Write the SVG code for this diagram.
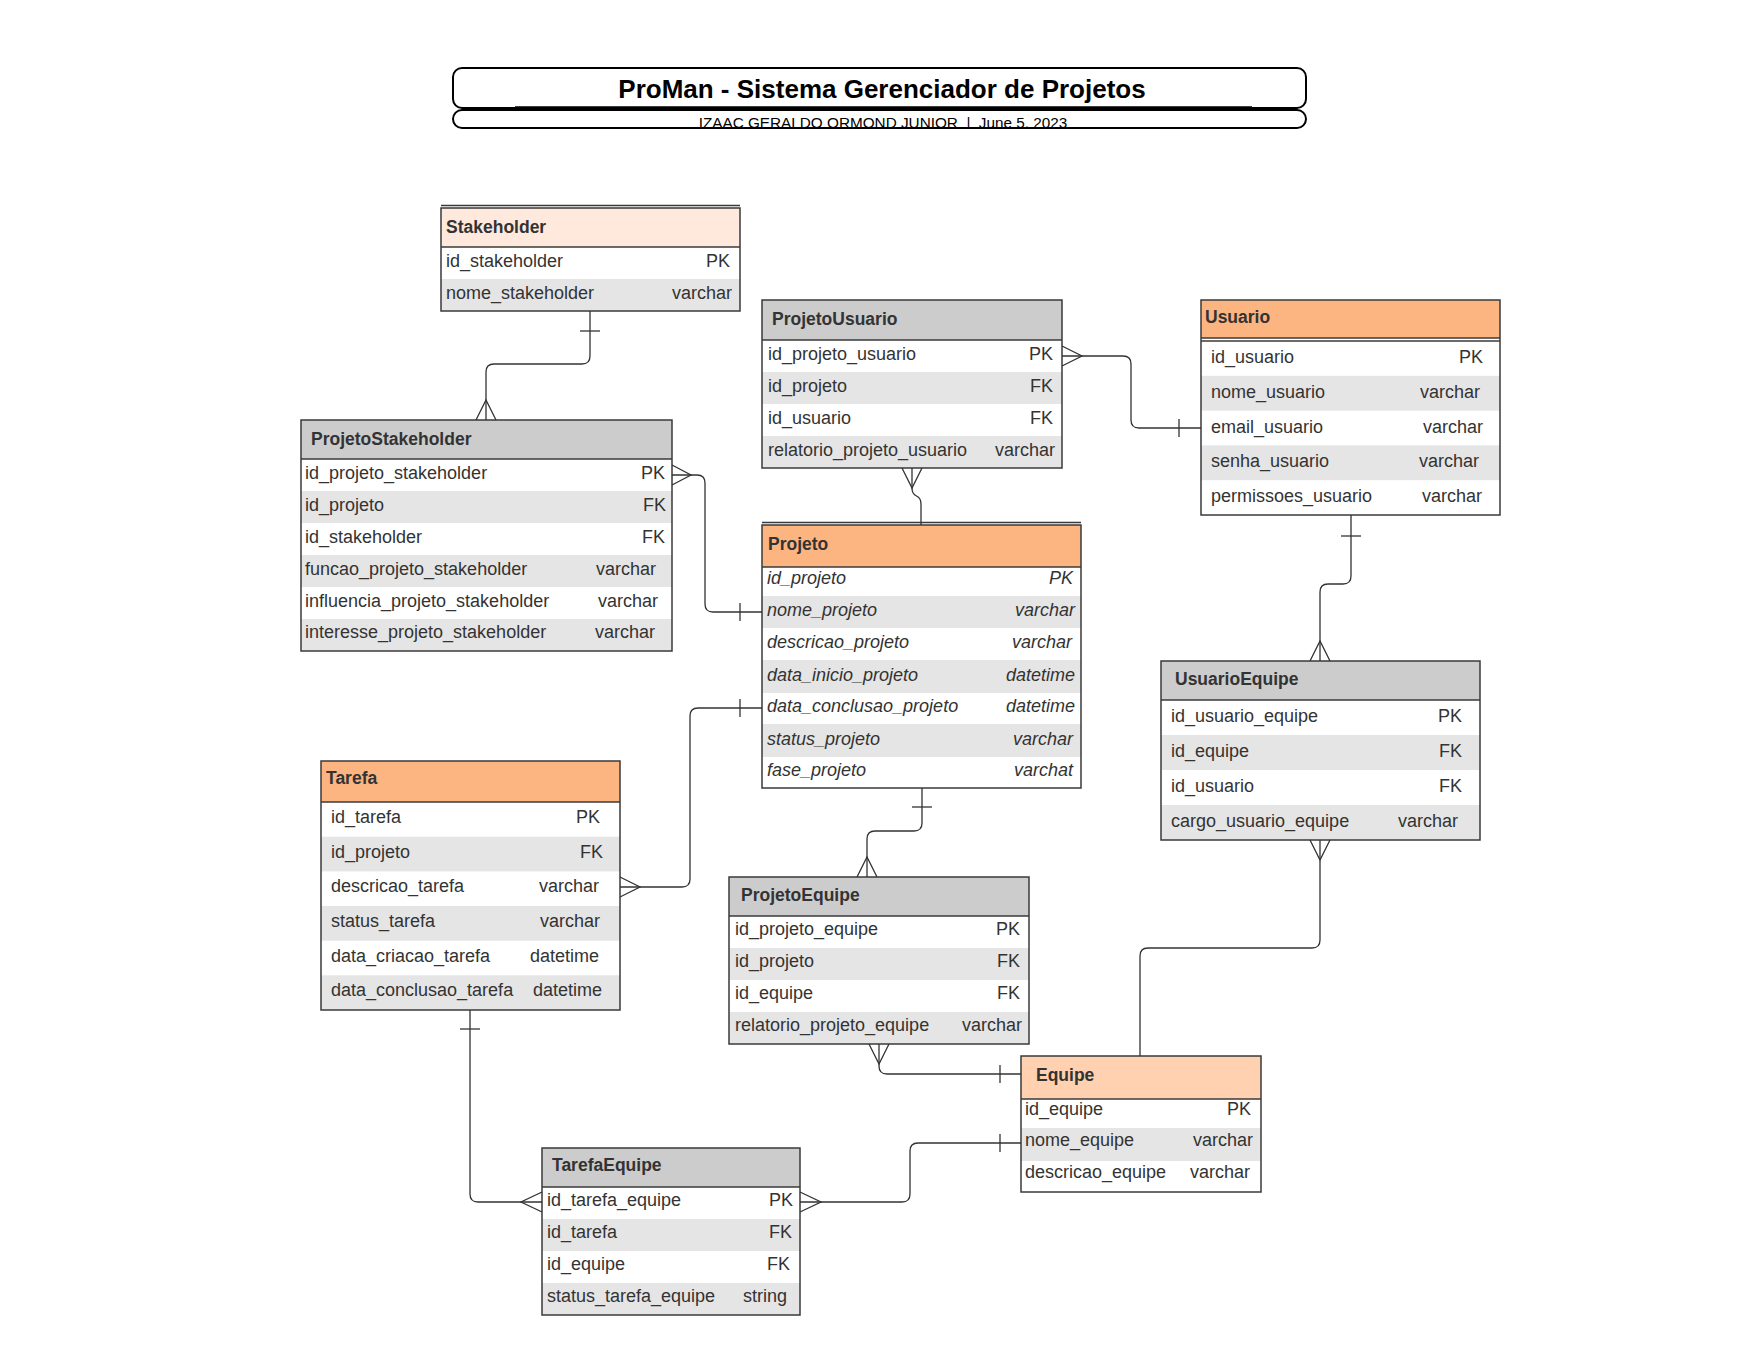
<svg xmlns="http://www.w3.org/2000/svg" width="1759" height="1359" viewBox="0 0 1759 1359">
<style>
.bg{fill:#fff}
.ol{fill:none;stroke:#3a3a3a;stroke-width:1.5}
.hl{stroke:#3a3a3a;stroke-width:1.5}
.hg{fill:#cccccc}.ho{fill:#fcb480}.hp{fill:#ffd1b0}.hs{fill:#ffe9dc}
.alt{fill:#e5e5e5}
text{font-family:"Liberation Sans",Arial,Helvetica,sans-serif;font-size:18px;fill:#333}
.h{font-weight:bold;font-size:17.5px}
.i{font-style:italic}
.r{text-anchor:end}
.c{fill:none;stroke:#333;stroke-width:1.3}
</style>
<defs>
<clipPath id="subclip"><rect x="453" y="110" width="853" height="17"/></clipPath>
</defs>
<rect width="1759" height="1359" fill="#fff"/>

<g id="title">
<rect x="453" y="68" width="853" height="40" rx="9" fill="#fff" stroke="#000" stroke-width="2"/>
<line x1="515" y1="107.5" x2="1252" y2="107.5" stroke="#000" stroke-width="2.5"/>
<text x="882" y="98" text-anchor="middle" style="font-size:26px;font-weight:bold;fill:#000">ProMan - Sistema Gerenciador de Projetos</text>
<rect x="453" y="110" width="853" height="18" rx="9" fill="#fff"/>
<text x="883" y="128" text-anchor="middle" clip-path="url(#subclip)" style="font-size:15.3px;fill:#000;white-space:pre" xml:space="preserve">IZAAC GERALDO ORMOND JUNIOR  |  June 5, 2023</text>
<rect x="453" y="110" width="853" height="18" rx="9" fill="none" stroke="#000" stroke-width="2"/>
</g>

<g id="Stakeholder">
<rect class="bg" x="441" y="208" width="299" height="103"/>
<rect class="hs" x="441" y="208" width="299" height="39"/>
<rect class="alt" x="441" y="279" width="299" height="32"/>
<line class="hl" x1="441" y1="247" x2="740" y2="247"/>
<line class="hl" x1="441" y1="205.5" x2="740" y2="205.5"/>
<rect class="ol" x="441" y="208" width="299" height="103"/>
<text class="h" x="446" y="233">Stakeholder</text>
<text x="446" y="267">id_stakeholder</text><text class="r" x="730" y="267">PK</text>
<text x="446" y="299">nome_stakeholder</text><text class="r" x="732" y="299">varchar</text>
</g>

<g id="ProjetoStakeholder">
<rect class="bg" x="301" y="420" width="371" height="231"/>
<rect class="hg" x="301" y="420" width="371" height="39"/>
<rect class="alt" x="301" y="491" width="371" height="32"/>
<rect class="alt" x="301" y="555" width="371" height="32"/>
<rect class="alt" x="301" y="619" width="371" height="32"/>
<line class="hl" x1="301" y1="459" x2="672" y2="459"/>
<rect class="ol" x="301" y="420" width="371" height="231"/>
<text class="h" x="311" y="445">ProjetoStakeholder</text>
<text x="305" y="479">id_projeto_stakeholder</text><text class="r" x="665" y="479">PK</text>
<text x="305" y="511">id_projeto</text><text class="r" x="666" y="511">FK</text>
<text x="305" y="543">id_stakeholder</text><text class="r" x="665" y="543">FK</text>
<text x="305" y="575">funcao_projeto_stakeholder</text><text class="r" x="656" y="575">varchar</text>
<text x="305" y="607">influencia_projeto_stakeholder</text><text class="r" x="658" y="607">varchar</text>
<text x="305" y="638">interesse_projeto_stakeholder</text><text class="r" x="655" y="638">varchar</text>
</g>

<g id="ProjetoUsuario">
<rect class="bg" x="762" y="300" width="300" height="168"/>
<rect class="hg" x="762" y="300" width="300" height="40"/>
<rect class="alt" x="762" y="372" width="300" height="32"/>
<rect class="alt" x="762" y="436" width="300" height="32"/>
<line class="hl" x1="762" y1="340" x2="1062" y2="340"/>
<rect class="ol" x="762" y="300" width="300" height="168"/>
<text class="h" x="772" y="325">ProjetoUsuario</text>
<text x="768" y="360">id_projeto_usuario</text><text class="r" x="1053" y="360">PK</text>
<text x="768" y="392">id_projeto</text><text class="r" x="1053" y="392">FK</text>
<text x="768" y="424">id_usuario</text><text class="r" x="1053" y="424">FK</text>
<text x="768" y="456">relatorio_projeto_usuario</text><text class="r" x="1055" y="456">varchar</text>
</g>

<g id="Usuario">
<rect class="bg" x="1201" y="300" width="299" height="215"/>
<rect class="ho" x="1201" y="300" width="299" height="38"/>
<rect class="alt" x="1201" y="375.8" width="299" height="34.8"/>
<rect class="alt" x="1201" y="445.4" width="299" height="34.8"/>
<line class="hl" x1="1201" y1="338" x2="1500" y2="338"/>
<line class="hl" x1="1201" y1="341" x2="1500" y2="341"/>
<rect class="ol" x="1201" y="300" width="299" height="215"/>
<text class="h" x="1205" y="323">Usuario</text>
<text x="1211" y="363">id_usuario</text><text class="r" x="1483" y="363">PK</text>
<text x="1211" y="398">nome_usuario</text><text class="r" x="1480" y="398">varchar</text>
<text x="1211" y="433">email_usuario</text><text class="r" x="1483" y="433">varchar</text>
<text x="1211" y="467">senha_usuario</text><text class="r" x="1479" y="467">varchar</text>
<text x="1211" y="502">permissoes_usuario</text><text class="r" x="1482" y="502">varchar</text>
</g>

<g id="Projeto">
<rect class="bg" x="762" y="525" width="319" height="263"/>
<rect class="ho" x="762" y="525" width="319" height="42"/>
<rect class="alt" x="762" y="596" width="319" height="32"/>
<rect class="alt" x="762" y="660" width="319" height="33"/>
<rect class="alt" x="762" y="724" width="319" height="33"/>
<line class="hl" x1="762" y1="567" x2="1081" y2="567"/>
<line class="hl" x1="762" y1="522.5" x2="1081" y2="522.5"/>
<rect class="ol" x="762" y="525" width="319" height="263"/>
<text class="h" x="768" y="550">Projeto</text>
<text class="i" x="767" y="584">id_projeto</text><text class="i r" x="1073" y="584">PK</text>
<text class="i" x="767" y="616">nome_projeto</text><text class="i r" x="1075" y="616">varchar</text>
<text class="i" x="767" y="648">descricao_projeto</text><text class="i r" x="1072" y="648">varchar</text>
<text class="i" x="767" y="681">data_inicio_projeto</text><text class="i r" x="1075" y="681">datetime</text>
<text class="i" x="767" y="712">data_conclusao_projeto</text><text class="i r" x="1075" y="712">datetime</text>
<text class="i" x="767" y="745">status_projeto</text><text class="i r" x="1073" y="745">varchar</text>
<text class="i" x="767" y="776">fase_projeto</text><text class="i r" x="1073" y="776">varchat</text>
</g>

<g id="Tarefa">
<rect class="bg" x="321" y="761" width="299" height="249"/>
<rect class="ho" x="321" y="761" width="299" height="41"/>
<rect class="alt" x="321" y="836.7" width="299" height="34.7"/>
<rect class="alt" x="321" y="906" width="299" height="34.7"/>
<rect class="alt" x="321" y="975.3" width="299" height="34.7"/>
<line class="hl" x1="321" y1="802" x2="620" y2="802"/>
<rect class="ol" x="321" y="761" width="299" height="249"/>
<text class="h" x="326" y="784">Tarefa</text>
<text x="331" y="823">id_tarefa</text><text class="r" x="600" y="823">PK</text>
<text x="331" y="858">id_projeto</text><text class="r" x="603" y="858">FK</text>
<text x="331" y="892">descricao_tarefa</text><text class="r" x="599" y="892">varchar</text>
<text x="331" y="927">status_tarefa</text><text class="r" x="600" y="927">varchar</text>
<text x="331" y="962">data_criacao_tarefa</text><text class="r" x="599" y="962">datetime</text>
<text x="331" y="996">data_conclusao_tarefa</text><text class="r" x="602" y="996">datetime</text>
</g>

<g id="UsuarioEquipe">
<rect class="bg" x="1161" y="661" width="319" height="179"/>
<rect class="hg" x="1161" y="661" width="319" height="39"/>
<rect class="alt" x="1161" y="735" width="319" height="35"/>
<rect class="alt" x="1161" y="805" width="319" height="35"/>
<line class="hl" x1="1161" y1="700" x2="1480" y2="700"/>
<rect class="ol" x="1161" y="661" width="319" height="179"/>
<text class="h" x="1175" y="685">UsuarioEquipe</text>
<text x="1171" y="722">id_usuario_equipe</text><text class="r" x="1462" y="722">PK</text>
<text x="1171" y="757">id_equipe</text><text class="r" x="1462" y="757">FK</text>
<text x="1171" y="792">id_usuario</text><text class="r" x="1462" y="792">FK</text>
<text x="1171" y="827">cargo_usuario_equipe</text><text class="r" x="1458" y="827">varchar</text>
</g>

<g id="ProjetoEquipe">
<rect class="bg" x="729" y="877" width="300" height="167"/>
<rect class="hg" x="729" y="877" width="300" height="39"/>
<rect class="alt" x="729" y="948" width="300" height="32"/>
<rect class="alt" x="729" y="1012" width="300" height="32"/>
<line class="hl" x1="729" y1="916" x2="1029" y2="916"/>
<rect class="ol" x="729" y="877" width="300" height="167"/>
<text class="h" x="741" y="901">ProjetoEquipe</text>
<text x="735" y="935">id_projeto_equipe</text><text class="r" x="1020" y="935">PK</text>
<text x="735" y="967">id_projeto</text><text class="r" x="1020" y="967">FK</text>
<text x="735" y="999">id_equipe</text><text class="r" x="1020" y="999">FK</text>
<text x="735" y="1031">relatorio_projeto_equipe</text><text class="r" x="1022" y="1031">varchar</text>
</g>

<g id="Equipe">
<rect class="bg" x="1021" y="1056" width="240" height="136"/>
<rect class="hp" x="1021" y="1056" width="240" height="43"/>
<rect class="alt" x="1021" y="1128" width="240" height="33"/>
<line class="hl" x1="1021" y1="1099" x2="1261" y2="1099"/>
<rect class="ol" x="1021" y="1056" width="240" height="136"/>
<text class="h" x="1036" y="1081">Equipe</text>
<text x="1025" y="1115">id_equipe</text><text class="r" x="1251" y="1115">PK</text>
<text x="1025" y="1146">nome_equipe</text><text class="r" x="1253" y="1146">varchar</text>
<text x="1025" y="1178">descricao_equipe</text><text class="r" x="1250" y="1178">varchar</text>
</g>

<g id="TarefaEquipe">
<rect class="bg" x="542" y="1148" width="258" height="167"/>
<rect class="hg" x="542" y="1148" width="258" height="39"/>
<rect class="alt" x="542" y="1219" width="258" height="32"/>
<rect class="alt" x="542" y="1283" width="258" height="32"/>
<line class="hl" x1="542" y1="1187" x2="800" y2="1187"/>
<rect class="ol" x="542" y="1148" width="258" height="167"/>
<text class="h" x="552" y="1171">TarefaEquipe</text>
<text x="547" y="1206">id_tarefa_equipe</text><text class="r" x="793" y="1206">PK</text>
<text x="547" y="1238">id_tarefa</text><text class="r" x="792" y="1238">FK</text>
<text x="547" y="1270">id_equipe</text><text class="r" x="790" y="1270">FK</text>
<text x="547" y="1302">status_tarefa_equipe</text><text class="r" x="787" y="1302">string</text>
</g>

<g id="connectors">
<path class="c" d="M590,311 V356 Q590,364 582,364 H494 Q486,364 486,372 V420"/>
<path class="c" d="M580,331 H600"/>
<path class="c" d="M476,420 L486,400 L496,420"/>
<path class="c" d="M672,475 H697 Q705,475 705,483 V604 Q705,612 713,612 H762"/>
<path class="c" d="M740,603 V621"/>
<path class="c" d="M672,465 L691,475 L672,485"/>
<path class="c" d="M1062,356 H1123 Q1131,356 1131,364 V420 Q1131,428 1139,428 H1201"/>
<path class="c" d="M1179,419 V437"/>
<path class="c" d="M1062,346 L1082,356 L1062,366"/>
<path class="c" d="M912,468 V488 Q912,494 916.5,496 Q921,498 921,504 V525"/>
<path class="c" d="M902,468 L912,488 L922,468"/>
<path class="c" d="M922,788 V823 Q922,831 914,831 H875 Q867,831 867,839 V877"/>
<path class="c" d="M912,807 H932"/>
<path class="c" d="M857,877 L867,857 L877,877"/>
<path class="c" d="M620,887 H682 Q690,887 690,879 V716 Q690,708 698,708 H762"/>
<path class="c" d="M740,699 V717"/>
<path class="c" d="M620,877 L640,887 L620,897"/>
<path class="c" d="M470,1010 V1194 Q470,1202 478,1202 H542"/>
<path class="c" d="M460,1029 H480"/>
<path class="c" d="M542,1192 L521,1202 L542,1212"/>
<path class="c" d="M1021,1143 H918 Q910,1143 910,1151 V1194 Q910,1202 902,1202 H800"/>
<path class="c" d="M1000,1134 V1152"/>
<path class="c" d="M800,1192 L821,1202 L800,1212"/>
<path class="c" d="M879,1044 V1066 Q879,1074 887,1074 H1021"/>
<path class="c" d="M1000,1065 V1083"/>
<path class="c" d="M869,1044 L879,1064 L889,1044"/>
<path class="c" d="M1320,840 V940 Q1320,948 1312,948 H1148 Q1140,948 1140,956 V1056"/>
<path class="c" d="M1310,840 L1320,860 L1330,840"/>
<path class="c" d="M1351,515 V576 Q1351,584 1343,584 H1328 Q1320,584 1320,592 V661"/>
<path class="c" d="M1341,536 H1361"/>
<path class="c" d="M1310,661 L1320,641 L1330,661"/>
</g>
</svg>
